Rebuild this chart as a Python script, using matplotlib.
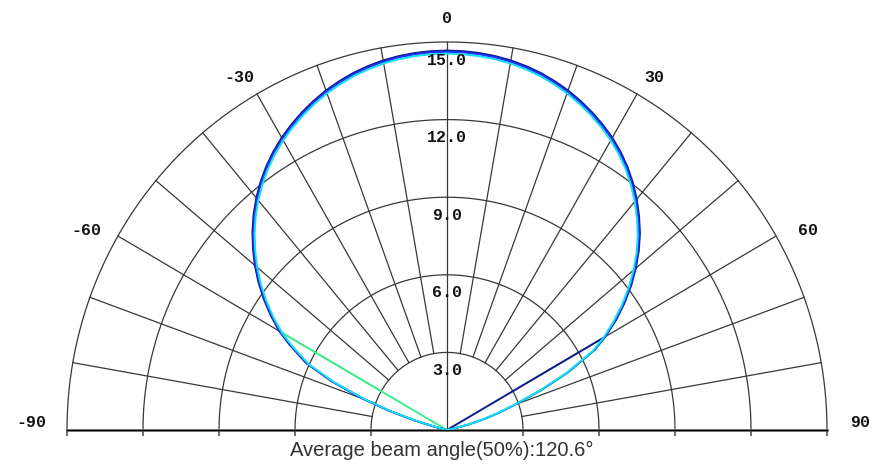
import numpy as np
import matplotlib
matplotlib.use('Agg')
import matplotlib.pyplot as plt

# measured angles (deg, 0 = straight up, negative = left side)
angles = [-90, -80, -78, -76, -74, -72, -70, -67.5, -65, -62,
          -60, -57.5, -55, -52.5, -50, -47.5, -45, -42.5, -40, -37.5, -35, -32.5,
          -30, -27.5, -25, -22.5, -20, -17.5, -15, -12.5, -10, -7.5, -5, -2.5, 0,
          2.5, 5, 7.5, 10, 12.5, 15, 17.5, 20, 22.5, 25, 27.5, 30, 32.5, 35, 37.5,
          40, 42.5, 45, 47.5, 50, 52.5, 55, 57.5, 60,
          62, 65, 67.5, 70, 72, 74, 76, 78, 80, 90]

# intensity curves, one per C-plane
c0 = [0, 0, 0, 0.35, 1.25, 2.35, 3.5, 4.9, 6.1, 7.0,
      7.6, 8.2, 8.78, 9.33, 9.85, 10.34, 10.81, 11.25, 11.66, 12.04, 12.39, 12.71,
      13.0, 13.26, 13.5, 13.72, 13.92, 14.09, 14.24, 14.36, 14.46, 14.53, 14.58, 14.61, 14.62,
      14.61, 14.58, 14.53, 14.46, 14.36, 14.24, 14.09, 13.92, 13.72, 13.5, 13.26, 13.0, 12.7,
      12.37, 12.0, 11.6, 11.17, 10.72, 10.22, 9.68, 9.11, 8.5, 7.86, 7.2,
      6.6, 5.25, 4.0, 2.85, 2.15, 1.5, 0.85, 0.25, 0, 0]
c90 = [0, 0, 0, 0.28, 1.18, 2.28, 3.43, 4.83, 6.03, 6.93,
       7.53, 8.13, 8.71, 9.26, 9.78, 10.27, 10.74, 11.18, 11.59, 11.97, 12.32, 12.64,
       12.93, 13.19, 13.43, 13.65, 13.85, 14.02, 14.17, 14.29, 14.39, 14.46, 14.51, 14.54, 14.55,
       14.54, 14.51, 14.46, 14.39, 14.29, 14.17, 14.02, 13.85, 13.65, 13.43, 13.19, 12.93, 12.63,
       12.3, 11.93, 11.53, 11.1, 10.65, 10.15, 9.61, 9.04, 8.43, 7.79, 7.13,
       6.53, 5.18, 3.93, 2.78, 2.08, 1.43, 0.78, 0.18, 0, 0]
c180 = [0, 0, 0, 0, 0, 0, 0, 0, 0, 0,
        7.5, 8.23, 8.81, 9.36, 9.88, 10.37, 10.84, 11.28, 11.69, 12.07, 12.42, 12.74,
        13.03, 13.29, 13.53, 13.75, 13.95, 14.12, 14.27, 14.39, 14.49, 14.56, 14.61, 14.64, 14.65,
        14.64, 14.61, 14.56, 14.49, 14.39, 14.27, 14.12, 13.95, 13.75, 13.53, 13.29, 13.03, 12.73,
        12.4, 12.03, 11.63, 11.2, 10.75, 10.25, 9.71, 9.14, 8.53, 7.89, 7.23,
        6.63, 5.28, 4.03, 2.88, 2.18, 1.53, 0.88, 0.28, 0, 0]
c270 = [0, 0, 0, 0.4, 1.3, 2.4, 3.55, 4.95, 6.15, 7.05,
        7.65, 8.25, 8.83, 9.38, 9.9, 10.39, 10.86, 11.3, 11.71, 12.09, 12.44, 12.76,
        13.05, 13.31, 13.55, 13.77, 13.97, 14.14, 14.29, 14.41, 14.51, 14.58, 14.63, 14.66, 14.67,
        14.66, 14.63, 14.58, 14.51, 14.41, 14.29, 14.14, 13.97, 13.77, 13.55, 13.31, 13.05, 12.75,
        12.42, 12.05, 11.65, 11.22, 10.77, 10.27, 9.73, 9.16, 8.55, 7.91, 7.2,
        0, 0, 0, 0, 0, 0, 0, 0, 0, 0]

# drawing order: green underneath, then navy and blue, cyan on top
series = [c180, c270, c0, c90]
colours = ['#3ef08c', '#0c1f8c', '#2233ff', '#12e0f4']

rings = [3, 6, 9, 12, 15]
ring_labels = ['3.0', '6.0', '9.0', '12.0', '15.0']
spokes = [-80, -70, -60, -50, -40, -30, -20, -10, 10, 20, 30, 40, 50, 60, 70, 80]
tick_labels = ['-90', '-60', '-30', '0', '30', '60', '90']
footer = 'Average beam angle(50%):120.6°'

# where the angle captions sit (deg, radius)
tick_pos = [(-89, 16.4), (-61.5, 16.2), (-31, 15.9), (0, 15.9),
            (31, 15.9), (61.5, 16.2), (89, 16.3)]

fig = plt.figure(figsize=(8.74, 4.67), dpi=100)
# half disc sits in the middle half of the (square) wedge box, centre at 1/4 height
ax = fig.add_axes([67 / 874, -157 / 467, 760 / 874, 776 / 467], projection='polar')
ax.set_theta_zero_location('N')
ax.set_theta_direction(-1)
ax.set_thetamin(-90)
ax.set_thetamax(90)
ax.set_rlim(0, 15)
ax.set_aspect('auto')
ax.grid(False)
ax.set_xticks([])
ax.set_yticks([])
for s in ax.spines.values():
    s.set_visible(False)

gridc = '#383838'
arc = np.deg2rad(np.linspace(-90, 90, 361))
for r in rings:
    ax.plot(arc, np.full_like(arc, r), color=gridc, lw=0.9, clip_on=False)
for a in spokes:
    t = np.deg2rad(a)
    ax.plot([t, t], [rings[0], rings[-1]], color=gridc, lw=0.9, clip_on=False)
ax.plot([0, 0], [0, rings[-1]], color=gridc, lw=0.9, clip_on=False)

# base line with little ticks under the ring crossings
for side in (-90, 90):
    t = np.deg2rad(side)
    ax.plot([t, t], [0, rings[-1]], color='#6e6e6e', lw=2, clip_on=False)
    ax.plot([t] * len(rings), rings, ls='none', marker=3, ms=4, mew=1.2,
            color='#555555', clip_on=False)

for vals, col in zip(series, colours):
    ax.plot(np.deg2rad(angles), vals, color=col, lw=1.4, zorder=5)

lab_font = dict(fontfamily='Liberation Mono', fontweight='bold', fontsize=12, color='#111111')
for r, txt in zip(rings, ring_labels):
    ax.text(0, r - 0.7, txt, ha='center', va='center', zorder=6, **lab_font)

for (a, r), txt in zip(tick_pos, tick_labels):
    ax.text(np.deg2rad(a), r, txt, ha='center', va='center', **lab_font)

fig.text(442 / 874, 1 - 450 / 467, footer, ha='center', va='center',
         fontsize=14.5, fontfamily='Liberation Sans', color='#333333')

fig.savefig('out.png', dpi=100)
